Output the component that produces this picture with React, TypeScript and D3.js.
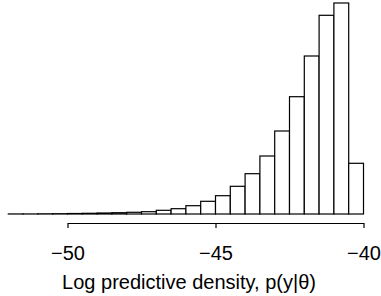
import React, { useEffect, useRef } from "react";
import * as d3 from "d3";

// left edges of the 0.5-wide bins
const binStarts = [
  -52, -51.5, -51, -50.5, -50, -49.5, -49, -48.5, -48, -47.5, -47, -46.5,
  -46, -45.5, -45, -44.5, -44, -43.5, -43, -42.5, -42, -41.5, -41, -40.5,
];
const binWidth = 0.5;
const counts = [
  0.05, 0.05, 0.2, 0.3, 0.5, 0.7, 1, 1.3, 1.7, 2.3, 3.7, 5.3,
  8.3, 12.7, 18.3, 27.7, 40.3, 58, 83, 117.3, 158, 198.7, 211, 50.7,
];
const tickValues = [-50, -45, -40];
const xTitle = "Log predictive density, p(y|θ)";

export default function App() {
  const ref = useRef<SVGSVGElement>(null);

  useEffect(() => {
    const width = 381;
    const height = 296;
    const svg = d3.select(ref.current);
    svg.selectAll("*").remove();

    const baseline = 214;
    const x = d3.scaleLinear().domain([-50, -40]).range([67.5, 363.5]);
    const y = d3.scaleLinear().domain([0, 211]).range([baseline, 3]);

    // bars
    svg.append("g")
      .selectAll("rect")
      .data(binStarts)
      .join("rect")
      .attr("x", d => x(d))
      .attr("y", (_, i) => y(counts[i]))
      .attr("width", d => x(d + binWidth) - x(d))
      .attr("height", (_, i) => baseline - y(counts[i]))
      .attr("fill", "white")
      .attr("stroke", "black")
      .attr("stroke-width", 1.2);

    // x axis
    const axis = svg.append("g")
      .attr("transform", "translate(0,223)")
      .call(
        d3.axisBottom(x)
          .tickValues(tickValues)
          .tickSize(5)
          .tickSizeOuter(0)
          .tickPadding(17.5)
          .tickFormat(d => String(d).replace("-", "−"))
      );
    axis.select(".domain").attr("stroke", "black").attr("stroke-width", 1.2);
    axis.selectAll("line").attr("stroke", "black").attr("stroke-width", 1.2);
    axis.selectAll("text")
      .attr("font-family", "'Liberation Sans', Arial, sans-serif")
      .attr("font-size", 20)
      .attr("fill", "black");

    // axis title
    svg.append("text")
      .attr("x", 189)
      .attr("y", 288.5)
      .attr("text-anchor", "middle")
      .attr("font-family", "'Liberation Sans', Arial, sans-serif")
      .attr("font-size", 20)
      .attr("fill", "black")
      .text(xTitle);

    svg.attr("width", width).attr("height", height);
  }, []);

  return (
    <svg
      ref={ref}
      width={381}
      height={296}
      style={{ position: "absolute", left: 0, top: 0, background: "white" }}
    />
  );
}
